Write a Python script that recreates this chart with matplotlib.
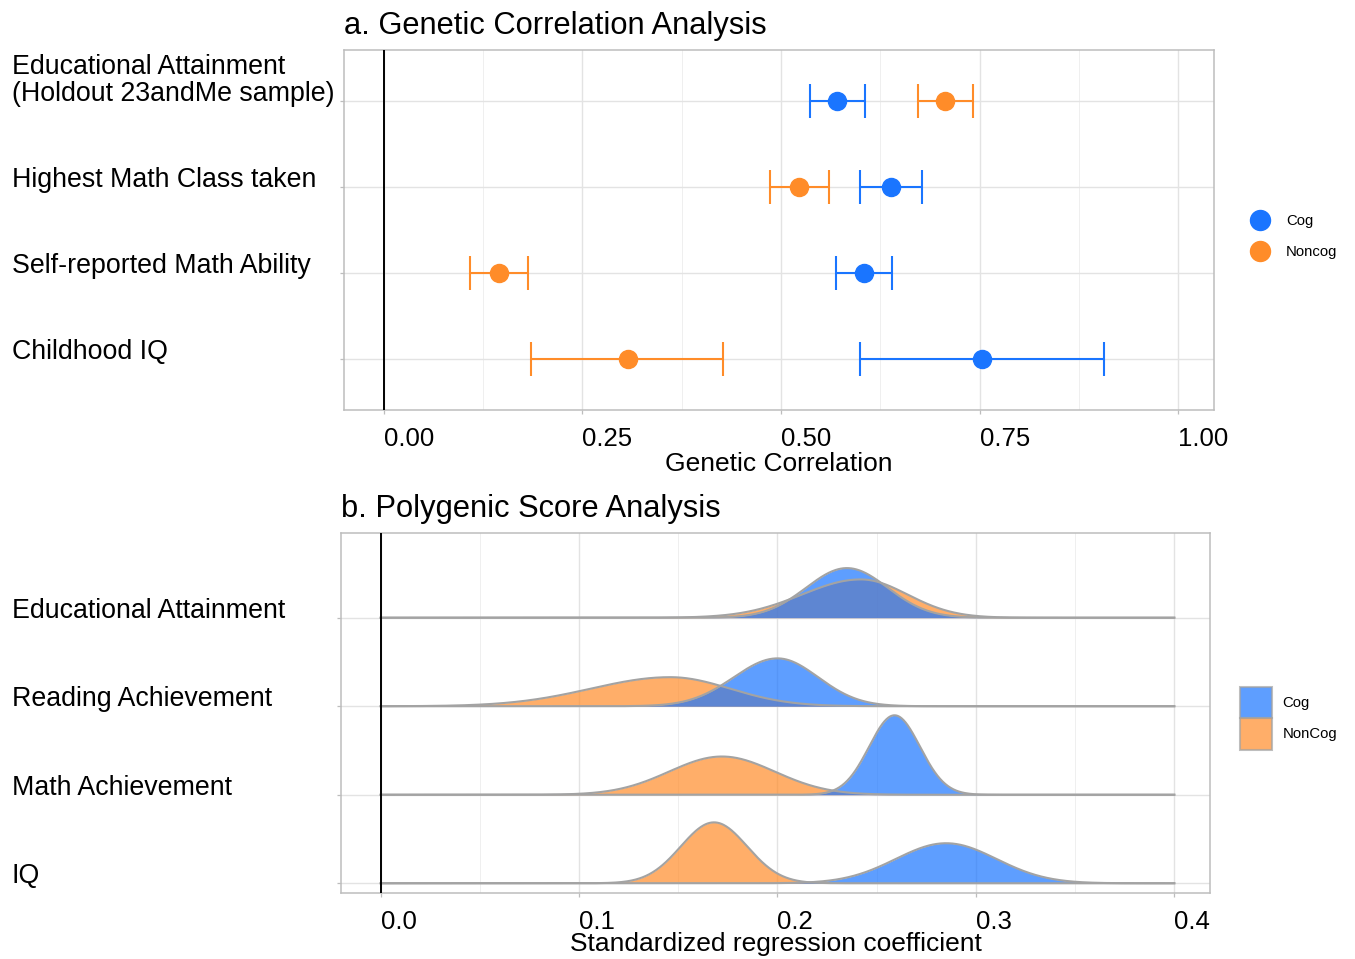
import matplotlib
matplotlib.use('Agg')
import matplotlib.pyplot as plt
import matplotlib.transforms as mtransforms
from matplotlib.lines import Line2D
from matplotlib.patches import Patch
import numpy as np

plt.rcParams.update({'font.family': 'Liberation Sans', 'font.size': 18.5})

# a. genetic correlation (point estimate and interval ends)
gc_traits = ['Educational Attainment\n(Holdout 23andMe sample)', 'Highest Math Class taken',
             'Self-reported Math Ability', 'Childhood IQ']
gc_cog = [0.571, 0.638, 0.605, 0.753]
gc_cog_lo = [0.537, 0.600, 0.569, 0.600]
gc_cog_hi = [0.606, 0.677, 0.640, 0.907]
gc_noncog = [0.707, 0.523, 0.145, 0.307]
gc_noncog_lo = [0.673, 0.486, 0.109, 0.185]
gc_noncog_hi = [0.742, 0.561, 0.181, 0.427]

# b. polygenic score coefficient distributions (mode, left / right spread)
pgs_traits = ['Educational Attainment', 'Reading Achievement', 'Math Achievement', 'IQ']
pgs_cog_mode = [0.235, 0.200, 0.259, 0.285]
pgs_cog_sd_left = [0.0205, 0.0220, 0.0128, 0.0254]
pgs_cog_sd_right = [0.0205, 0.0205, 0.0128, 0.0254]
pgs_noncog_mode = [0.242, 0.146, 0.172, 0.168]
pgs_noncog_sd_left = [0.0296, 0.0400, 0.0266, 0.0167]
pgs_noncog_sd_right = [0.0235, 0.0300, 0.0266, 0.0167]

BLUE = '#1a75ff'
ORANGE = '#ff8c29'
GRID = '#e3e3e3'
BORDER = '#bdbdbd'
OUTLINE = '#a3a3a3'

W, H = 1355, 959
fig = plt.figure(figsize=(W / 100, H / 100), dpi=100)


def fx(px):
    return px / W


def fy(py):
    return 1 - py / H


ax1 = fig.add_axes([fx(344), fy(410), fx(1214 - 344), (410 - 50) / H])
ax2 = fig.add_axes([fx(341), fy(893), fx(1210 - 341), (893 - 533) / H])


def style(ax, major, minor):
    ax.set_axisbelow(True)
    ax.set_xticks(major)
    ax.set_xticks(minor, minor=True)
    ax.grid(True, which='major', color=GRID, lw=1.0)
    ax.grid(True, which='minor', axis='x', color='#efefef', lw=0.7)
    for s in ax.spines.values():
        s.set_color(BORDER)
        s.set_linewidth(1.1)
    ax.tick_params(which='major', length=3, width=0.9, color=BORDER, pad=9.5,
                   labelsize=18.5)
    ax.tick_params(which='minor', length=0)
    ax.axvline(0, color='black', lw=1.4, zorder=5)


def row_labels(ax, labels, rows):
    # left aligned at the figure edge, baseline on the row
    tr = mtransforms.blended_transform_factory(fig.transFigure, ax.transData)
    for lab, r in zip(labels, rows):
        lines = lab.split('\n')[::-1]
        for k, line in enumerate(lines):
            off = mtransforms.offset_copy(tr, fig=fig, x=0, y=27.7 * k, units='dots')
            ax.text(fx(12), r, line, transform=off, ha='left', va='baseline',
                    fontsize=19.3)


# ---- panel a
rows = np.array([4, 3, 2, 1])
cog = np.array(gc_cog)
non = np.array(gc_noncog)
ax1.errorbar(non, rows, xerr=[non - np.array(gc_noncog_lo), np.array(gc_noncog_hi) - non],
             fmt='o', ms=13, color=ORANGE, ecolor=ORANGE, elinewidth=1.5, capsize=12.5,
             capthick=1.5, zorder=3)
ax1.errorbar(cog, rows, xerr=[cog - np.array(gc_cog_lo), np.array(gc_cog_hi) - cog],
             fmt='o', ms=13, color=BLUE, ecolor=BLUE, elinewidth=1.5, capsize=12.5,
             capthick=1.5, zorder=3)
ax1.set_xlim(-0.05, 1.045)
ax1.set_ylim(0.4, 4.6)
ax1.set_yticks(rows)
ax1.set_yticklabels([])
style(ax1, [0, 0.25, 0.5, 0.75, 1.0], [0.125, 0.375, 0.625, 0.875])
ax1.set_xticklabels(['0.00', '0.25', '0.50', '0.75', '1.00'], ha='left')
row_labels(ax1, gc_traits, rows)

fig.text(fx(344), fy(34), 'a. Genetic Correlation Analysis', fontsize=22.2, ha='left', va='baseline')
fig.text(fx(779), fy(471), 'Genetic Correlation', fontsize=19, ha='center', va='baseline')

fig.legend([Line2D([], [], marker='o', ls='', ms=14.4, color=BLUE),
            Line2D([], [], marker='o', ls='', ms=14.4, color=ORANGE)],
           ['Cog', 'Noncog'], loc='center left', bbox_to_anchor=(fx(1252.5), fy(236.4)),
           frameon=False, fontsize=10.7, handlelength=1.0, handletextpad=1.25,
           labelspacing=1.15, borderpad=0, borderaxespad=0)


# ---- panel b
def split_normal(x, mode, s1, s2):
    s = np.where(x < mode, s1, s2)
    return np.sqrt(2 / np.pi) / (s1 + s2) * np.exp(-0.5 * ((x - mode) / s) ** 2)


xs = np.linspace(0, 0.4, 1200)
ridge_scale = 0.0288
for i, r in enumerate(rows):
    for mode, s1, s2, col in [(pgs_noncog_mode[i], pgs_noncog_sd_left[i], pgs_noncog_sd_right[i], ORANGE),
                              (pgs_cog_mode[i], pgs_cog_sd_left[i], pgs_cog_sd_right[i], BLUE)]:
        top = r + ridge_scale * split_normal(xs, mode, s1, s2)
        ax2.fill_between(xs, r, top, color=col, alpha=0.7, lw=0, zorder=2)
        ax2.plot(xs, top, color=OUTLINE, lw=1.5, zorder=3)

ax2.set_xlim(-0.02, 0.418)
ax2.set_ylim(0.89, 4.957)
ax2.set_yticks(rows)
ax2.set_yticklabels([])
style(ax2, [0, 0.1, 0.2, 0.3, 0.4], [0.05, 0.15, 0.25, 0.35])
ax2.set_xticklabels(['0.0', '0.1', '0.2', '0.3', '0.4'], ha='left')
row_labels(ax2, pgs_traits, rows)

fig.text(fx(341), fy(517), 'b. Polygenic Score Analysis', fontsize=22.2, ha='left', va='baseline')
fig.text(fx(776), fy(951), 'Standardized regression coefficient', fontsize=19, ha='center',
         va='baseline')

fig.legend([Patch(facecolor=BLUE, alpha=0.7, edgecolor=OUTLINE, lw=1.5),
            Patch(facecolor=ORANGE, alpha=0.7, edgecolor=OUTLINE, lw=1.5)],
           ['Cog', 'NonCog'], loc='center left', bbox_to_anchor=(fx(1240), fy(718.4)),
           frameon=False, fontsize=10.7, handlelength=2.13, handleheight=2.85,
           handletextpad=0.74, labelspacing=0.0, borderpad=0, borderaxespad=0)

fig.savefig('out.png', dpi=100)
